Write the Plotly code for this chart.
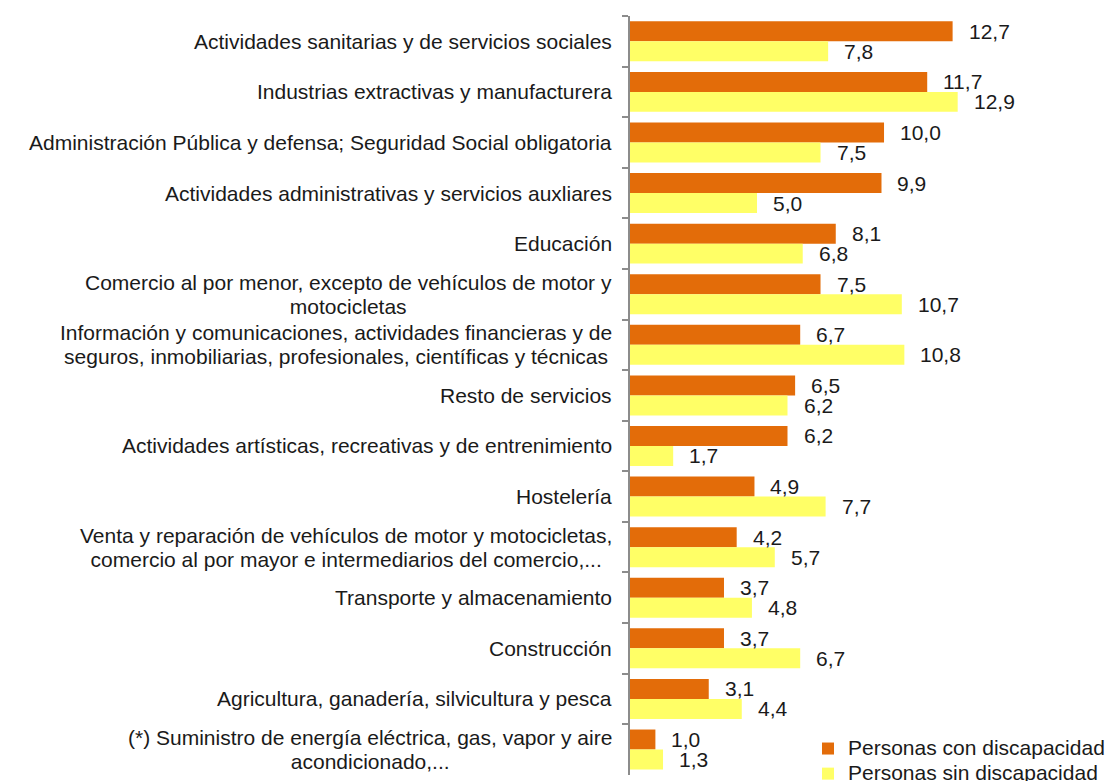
import plotly.graph_objects as go

categories = [
    "Actividades sanitarias y de servicios sociales",
    "Industrias extractivas y manufacturera",
    "Administración Pública y defensa; Seguridad Social obligatoria",
    "Actividades administrativas y servicios auxliares",
    "Educación",
    "Comercio al por menor, excepto de vehículos de motor y<br>motocicletas",
    "Información y comunicaciones, actividades financieras y de<br>seguros, inmobiliarias, profesionales, científicas y técnicas",
    "Resto de servicios",
    "Actividades artísticas, recreativas y de entrenimiento",
    "Hostelería",
    "Venta y reparación de vehículos de motor y motocicletas,<br>comercio al por mayor e intermediarios del comercio,...",
    "Transporte y almacenamiento",
    "Construcción",
    "Agricultura, ganadería, silvicultura y pesca",
    "(*) Suministro de energía eléctrica, gas, vapor y aire<br>acondicionado,...",
]
con_discapacidad = [12.7, 11.7, 10.0, 9.9, 8.1, 7.5, 6.7, 6.5, 6.2, 4.9, 4.2, 3.7, 3.7, 3.1, 1.0]
sin_discapacidad = [7.8, 12.9, 7.5, 5.0, 6.8, 10.7, 10.8, 6.2, 1.7, 7.7, 5.7, 4.8, 6.7, 4.4, 1.3]
series_names = ["Personas con discapacidad", "Personas sin discapacidad"]

ORANGE = "#E36C09"
YELLOW = "#FFFF66"
FONT = "Liberation Sans, Arial, sans-serif"
TXT = "#1a1a1a"

def big(label, px=21):
    # glyphs at a larger size, line spacing driven by the smaller base font
    return "<br>".join(f"<span style='font-size:{px}px'>{ln}</span>" for ln in label.split("<br>"))

fig = go.Figure()
fig.add_trace(go.Bar(y=categories, x=con_discapacidad, orientation="h",
                     name=big(series_names[0], 21), marker=dict(color=ORANGE, line=dict(width=0))))
fig.add_trace(go.Bar(y=categories, x=sin_discapacidad, orientation="h",
                     name=big(series_names[1], 21), marker=dict(color=YELLOW, line=dict(width=0))))

def fmt(v):
    return f"{v:.1f}".replace(".", ",")

annotations = []
for c, a, b in zip(categories, con_discapacidad, sin_discapacidad):
    annotations.append(dict(x=a, y=c, xref="x", yref="y", text=fmt(a), showarrow=False,
                            xanchor="left", yanchor="middle", xshift=14, yshift=10,
                            font=dict(family=FONT, size=21, color=TXT)))
    annotations.append(dict(x=b, y=c, xref="x", yref="y", text=fmt(b), showarrow=False,
                            xanchor="left", yanchor="middle", xshift=14, yshift=-10,
                            font=dict(family=FONT, size=21, color=TXT)))
    annotations.append(dict(x=0, y=c, xref="paper", yref="y", text=big(c), showarrow=False,
                            xanchor="right", yanchor="middle", xshift=-16, align="center",
                            font=dict(family=FONT, size=18.5, color=TXT)))

# The page body has an 8px margin; the figure is sized so that the
# plot area sits at x 630..1119, y 16..775 of the window.
fig.update_layout(
    width=1111, height=773,
    margin=dict(l=622, r=0, t=8, b=6, autoexpand=False),
    paper_bgcolor="white", plot_bgcolor="white",
    barmode="group", bargap=0.21, bargroupgap=0,
    showlegend=True,
    legend=dict(x=0.364, y=0.058, xanchor="left", yanchor="top",
                font=dict(family=FONT, size=17, color=TXT),
                bgcolor="rgba(0,0,0,0)", itemsizing="constant",
                tracegroupgap=0),
    annotations=annotations,
    xaxis=dict(range=[0, 19.25], visible=False, showgrid=False, zeroline=False),
    yaxis=dict(autorange="reversed", showticklabels=False, showline=True,
               linecolor="#8c8c8c", linewidth=1.5, ticks="outside", ticklen=6,
               tickcolor="#8c8c8c", tickwidth=1.5, tickson="boundaries",
               showgrid=False, zeroline=False),
    font=dict(family=FONT),
)

fig.write_html("out.html")
